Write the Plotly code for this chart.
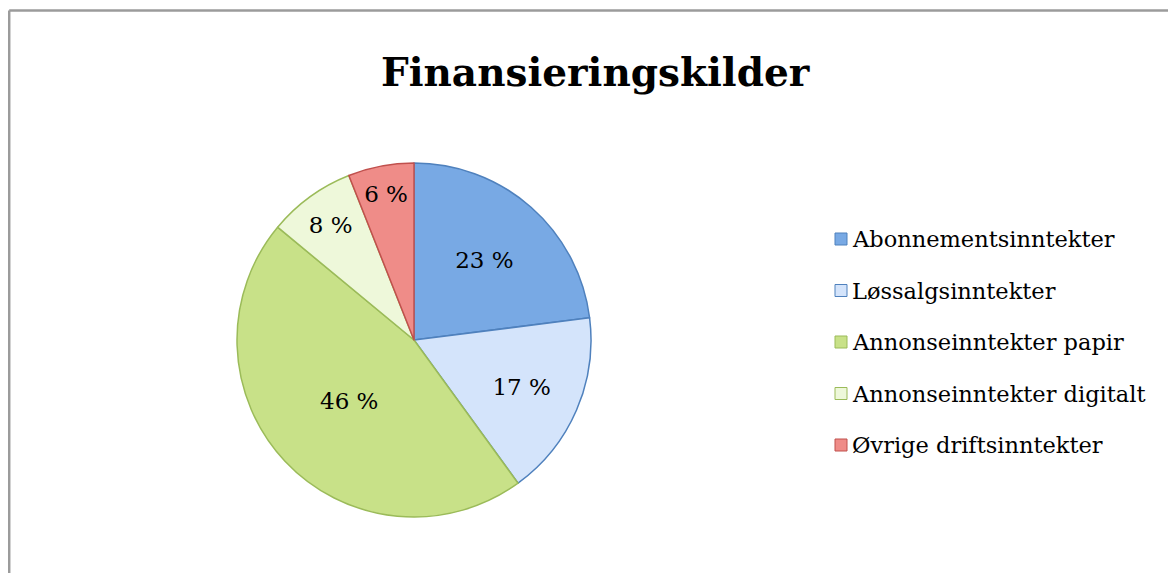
import plotly.graph_objects as go

labels = ["Abonnementsinntekter", "Løssalgsinntekter", "Annonseinntekter papir",
          "Annonseinntekter digitalt", "Øvrige driftsinntekter"]
values = [23, 17, 46, 8, 6]
fill_colors = ["#78a9e4", "#d4e4fb", "#c8e188", "#eef8da", "#ef8c88"]
line_colors = ["#4f81bd", "#4f81bd", "#9bbb59", "#9bbb59", "#c0504d"]
title_text = "Finansieringskilder"

W, H = 1176, 573
OFF = 8  # page body margin


def px(x):
    return (x - OFF) / W


def py(y):
    return 1 - (y - OFF) / H


cx, cy, R = 414, 340, 177

fig = go.Figure()
fig.add_trace(go.Pie(
    labels=labels, values=values, sort=False, direction="clockwise", rotation=0,
    marker=dict(colors=fill_colors, line=dict(color=line_colors, width=1.5)),
    texttemplate="%{value} %", textposition="inside", insidetextorientation="horizontal",
    textfont=dict(family="DejaVu Serif", size=23, color="black"),
    domain=dict(x=[px(cx - R), px(cx + R)], y=[py(cy + R), py(cy - R)]),
    showlegend=False, hoverinfo="label+percent",
))

shapes = [
    dict(type="line", xref="paper", yref="paper", x0=px(9.2), x1=1.05, y0=py(10.5), y1=py(10.5),
         line=dict(color="#9b9b9b", width=2.5)),
    dict(type="line", xref="paper", yref="paper", x0=px(9.2), x1=px(9.2), y0=-0.05, y1=py(10.5),
         line=dict(color="#9b9b9b", width=2.5)),
]
annotations = [dict(text="<b>" + title_text + "</b>", x=px(595), y=py(72), xref="paper", yref="paper",
                    showarrow=False, xanchor="center", yanchor="middle",
                    font=dict(family="DejaVu Serif", size=39, color="black"))]

leg_x, leg_y0, leg_dy, sq = 835, 239, 51.5, 12
for i, lab in enumerate(labels):
    yc = leg_y0 + i * leg_dy
    shapes.append(dict(type="rect", xref="paper", yref="paper",
                       x0=px(leg_x), x1=px(leg_x + sq),
                       y0=py(yc + sq / 2), y1=py(yc - sq / 2),
                       fillcolor=fill_colors[i], line=dict(color=line_colors[i], width=1)))
    annotations.append(dict(text=lab, x=px(leg_x + sq + 3), y=py(yc), xref="paper", yref="paper",
                            showarrow=False, xanchor="left", yanchor="middle",
                            font=dict(family="DejaVu Serif", size=22.5, color="black")))

fig.update_layout(width=W, height=H, margin=dict(l=0, r=0, t=0, b=0),
                  paper_bgcolor="white", plot_bgcolor="white",
                  shapes=shapes, annotations=annotations)
fig.write_html("out.html")
